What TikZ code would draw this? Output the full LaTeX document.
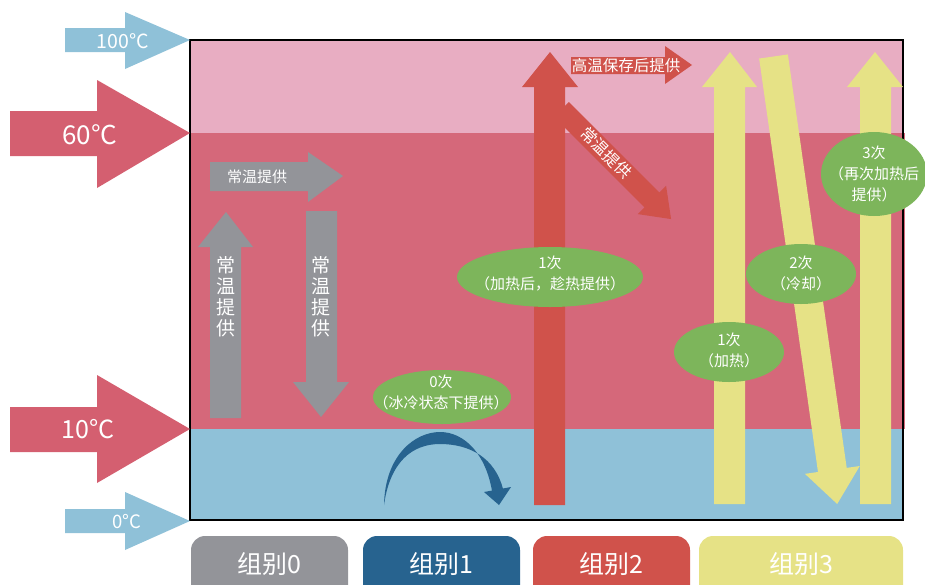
\documentclass[tikz,border=0pt]{standalone}
\usepackage{fontspec}
\setmainfont{Noto Sans CJK SC}
\definecolor{lightpink}{HTML}{E8ADC2}
\definecolor{darkpink}{HTML}{D5687A}
\definecolor{bandblue}{HTML}{8FC1D8}
\definecolor{tempred}{HTML}{D45F70}
\definecolor{greyc}{HTML}{939499}
\definecolor{redc}{HTML}{D0524B}
\definecolor{darkblue}{HTML}{27638F}
\definecolor{yellowc}{HTML}{E6E286}
\definecolor{greenc}{HTML}{7DB55B}
\tikzset{
  lbl/.style={text=white, inner sep=0pt, align=center},
  ellfill/.style={fill=greenc},
  boxfill/.style={rounded corners=14pt}
}
\newcommand{\fs}[2]{\fontsize{#1}{#2}\selectfont}
\begin{document}
\begin{tikzpicture}[x=1pt,y=-1pt]
\useasboundingbox (0,0) rectangle (925,584);
\clip (0,0) rectangle (925,584);
% bands
\fill[lightpink] (190,40) rectangle (903,133);
\fill[darkpink] (190,133) rectangle (905,429);
\fill[bandblue] (190,429) rectangle (903,520);
\draw[line width=1.3pt] (190,40) rectangle (903,520);
% temperature arrows
\fill[bandblue] (65,28) -- (125,28) -- (125,12) -- (190,40) -- (125,69) -- (125,52) -- (65,52) -- cycle;
\fill[tempred] (10,111) -- (97,111) -- (97,80) -- (190,133) -- (97,188) -- (97,156) -- (10,156) -- cycle;
\fill[tempred] (10,407) -- (97,407) -- (97,375) -- (190,429) -- (97,483) -- (97,452) -- (10,452) -- cycle;
\fill[bandblue] (65,509) -- (125,509) -- (125,492) -- (190,521) -- (125,550) -- (125,533) -- (65,533) -- cycle;
\node[lbl, font=\fs{19.5}{21}] (t100) at (123,41) {100°C};
\node[lbl, font=\fs{26}{28}] (t60) at (90,135) {60°C};
\node[lbl, font=\fs{25}{28}] (t10) at (88,429) {10°C};
\node[lbl, font=\fs{18.5}{20}] (t0) at (127,522) {0°C};
% group 0 (grey)
\fill[greyc] (210,162) -- (308,162) -- (308,152) -- (343,176) -- (308,202) -- (308,191) -- (210,191) -- cycle;
\fill[greyc] (210,418) -- (210,247) -- (198,247) -- (226,212) -- (253,247) -- (241,247) -- (241,418) -- cycle;
\fill[greyc] (306,211) -- (337,211) -- (337,382) -- (349,382) -- (321,417) -- (293,382) -- (306,382) -- cycle;
\node[lbl, font=\fs{15}{17}] (g0h) at (257,177) {常温提供};
\node[lbl, font=\fs{19}{21}] (g0u) at (226,297) {常\\温\\提\\供};
\node[lbl, font=\fs{19}{21}] (g0d) at (321,297) {常\\温\\提\\供};
% group 1 (dark blue curved arrow)
\fill[darkblue] (384,505) .. controls (385,455) and (415,432) .. (440,432)
  .. controls (465,432) and (486,455) .. (492,491)
  -- (503,489) .. controls (495,458) and (470,444) .. (440,444)
  .. controls (412,444) and (390,462) .. (384,505) -- cycle;
\fill[darkblue] (484,492) -- (511,487) -- (499,505) -- cycle;
% group 2 (red)
\begin{scope}[shift={(565,113)}, rotate=-45]
  \fill[redc] (-5,-10.5) -- (123,-10.5) -- (123,-20) -- (150,0) -- (123,20) -- (123,10.5) -- (-5,10.5) -- cycle;
\end{scope}
\fill[redc] (534,505) -- (534,87) -- (522,87) -- (550,52) -- (578,87) -- (565,87) -- (565,505) -- cycle;
\fill[redc] (571,57) -- (665,57) -- (665,46) -- (692,65) -- (665,84) -- (665,74) -- (571,74) -- cycle;
\node[lbl, font=\fs{15.5}{17}] (g2h) at (626,66) {高温保存后提供};
\node[lbl, font=\fs{16}{18}, rotate=-45] (g2d) at (606,153) {常温提供};
% group 3 (yellow)
\fill[yellowc] (714,504) -- (714,87) -- (702,87) -- (730,52) -- (757,87) -- (745,87) -- (745,504) -- cycle;
\begin{scope}[shift={(773.5,56.5)}, rotate=-81.9]
  \fill[yellowc] (0,-14.5) -- (417.6,-14.5) -- (417.6,-27.7) -- (452,0) -- (417.6,27.7) -- (417.6,14.5) -- (0,14.5) -- cycle;
\end{scope}
\fill[yellowc] (860,504) -- (860,87) -- (847,87) -- (875,52) -- (903,87) -- (891,87) -- (891,504) -- cycle;
% ellipses
\fill[ellfill] (442,397) ellipse [x radius=69pt, y radius=27pt];
\node[lbl, font=\fs{15}{21}] (e0) at (441,392) {0次\\（冰冷状态下提供）};
\fill[ellfill] (550,277) ellipse [x radius=93pt, y radius=30pt];
\node[lbl, font=\fs{15}{21}] (e1) at (550,273.5) {1次\\（加热后，趁热提供）};
\fill[ellfill] (729,352) ellipse [x radius=55pt, y radius=30pt];
\node[lbl, font=\fs{15}{21}] (e31) at (729,350) {1次\\（加热）};
\fill[ellfill] (801,274) ellipse [x radius=55pt, y radius=30pt];
\node[lbl, font=\fs{15}{21}] (e32) at (801,273) {2次\\（冷却）};
\fill[ellfill] (874,174) ellipse [x radius=53pt, y radius=42pt];
\node[lbl, font=\fs{15}{21}] (e33) at (874,174) {3次\\（再次加热后\\提供）};
% bottom group labels
\fill[greyc, boxfill] (191,536) rectangle (348,600);
\fill[darkblue, boxfill] (363,536) rectangle (520,600);
\fill[redc, boxfill] (533,536) rectangle (690,600);
\fill[yellowc, boxfill] (699,536) rectangle (903,600);
\node[lbl, font=\fs{25}{27}] (b0) at (269.5,564) {组别0};
\node[lbl, font=\fs{25}{27}] (b1) at (441.5,564) {组别1};
\node[lbl, font=\fs{25}{27}] (b2) at (611.5,564) {组别2};
\node[lbl, font=\fs{25}{27}] (b3) at (801,564) {组别3};
\end{tikzpicture}
\end{document}
